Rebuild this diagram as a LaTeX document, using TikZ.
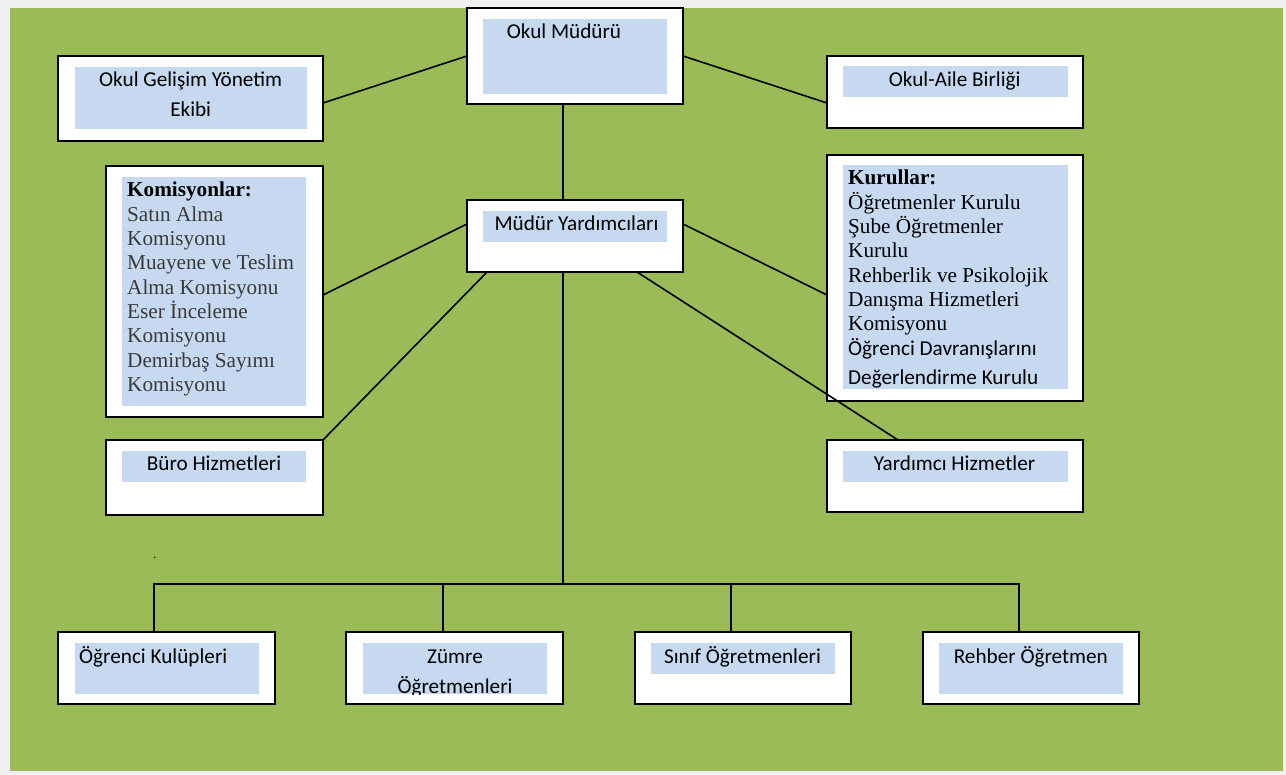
\documentclass[tikz,border=0pt]{standalone}
\usepackage{fontspec}
\setmainfont{Liberation Serif}
\newfontfamily\calfont{Carlito}
\usetikzlibrary{calc}
\definecolor{bggreen}{HTML}{9BBB59}
\definecolor{inblue}{HTML}{C6D9F1}
\definecolor{pagegray}{HTML}{F0F0F0}
\definecolor{komgray}{HTML}{3A3A3A}
\begin{document}
\begin{tikzpicture}[x=1pt,y=-1pt,
  box/.style={draw=black, line width=2pt, fill=white, inner sep=0pt, outer sep=0pt},
  inbox/.style={fill=inblue, inner sep=0pt, outer sep=0pt, anchor=north west},
  ctext/.style={font=\calfont\fontsize{21.2}{29}\selectfont, inner sep=0pt, anchor=base, text=black},
  stext/.style={font=\fontsize{21.2}{24.3}\selectfont, inner sep=0pt, anchor=base west, align=left},
  link/.style={line width=1.6pt, draw=black}]

\fill[pagegray] (0,0) rectangle (1286,775);
\fill[bggreen] (10,8) rectangle (1283,771);
\useasboundingbox (0,0) rectangle (1286,775);

% ---- outer boxes
\node[box, minimum width=216pt, minimum height=96pt] (om) at (575,56) {};
\node[box, minimum width=265pt, minimum height=85pt] (ogy) at (190.5,98.5) {};
\node[box, minimum width=256pt, minimum height=72pt] (oab) at (955,92) {};
\node[box, minimum width=217pt, minimum height=251pt] (kom) at (214.5,291.5) {};
\node[box, minimum width=216pt, minimum height=72pt] (my) at (575,236) {};
\node[box, minimum width=256pt, minimum height=246pt] (kur) at (955,278) {};
\node[box, minimum width=217pt, minimum height=75pt] (buro) at (214.5,477.5) {};
\node[box, minimum width=256pt, minimum height=72pt] (yh) at (955,476) {};
\node[box, minimum width=217pt, minimum height=72pt] (ok) at (166.5,668) {};
\node[box, minimum width=217pt, minimum height=72pt] (zo) at (454.5,668) {};
\node[box, minimum width=216pt, minimum height=72pt] (so) at (743,668) {};
\node[box, minimum width=216pt, minimum height=72pt] (ro) at (1031,668) {};

% ---- inner blue panels
\node[inbox, minimum width=184pt, minimum height=75pt] (omi) at (483,19) {};
\node[inbox, minimum width=232pt, minimum height=62pt] (ogyi) at (75,67) {};
\node[inbox, minimum width=225pt, minimum height=31pt] (oabi) at (843,66) {};
\node[inbox, minimum width=184pt, minimum height=229pt] (komi) at (122,177) {};
\node[inbox, minimum width=184pt, minimum height=31pt] (myi) at (483,211) {};
\node[inbox, minimum width=225pt, minimum height=224pt] (kuri) at (843,165) {};
\node[inbox, minimum width=184pt, minimum height=31pt] (buroi) at (122,451) {};
\node[inbox, minimum width=225pt, minimum height=31pt] (yhi) at (843,451) {};
\node[inbox, minimum width=184pt, minimum height=51pt] (oki) at (75,643) {};
\node[inbox, minimum width=184pt, minimum height=51pt] (zoi) at (363,643) {};
\node[inbox, minimum width=184pt, minimum height=31pt] (soi) at (651,643) {};
\node[inbox, minimum width=184pt, minimum height=51pt] (roi) at (939,643) {};

% ---- texts
\node[ctext] (omt) at (564,39) {Okul Müdürü};
\node[ctext] (ogyt1) at (190.7,87) {Okul Gelişim Yönetim};
\node[ctext] (ogyt2) at (190.7,117) {Ekibi};
\node[ctext] (oabt) at (954.7,87) {Okul-Aile Birliği};
\node[ctext] (myt) at (576.5,231) {Müdür Yardımcıları};
\node[ctext] (burot) at (214,471) {Büro Hizmetleri};
\node[ctext] (yht) at (954.5,471) {Yardımcı Hizmetler};
\node[ctext, anchor=base west] (okt) at (79,663) {Öğrenci Kulüpleri};
\node[ctext] (zot1) at (455,663) {Zümre};
\begin{scope}
  \clip (363,643) rectangle (547,694);
  \node[ctext] (zot2) at (455,693) {Öğretmenleri};
\end{scope}
\node[ctext] (sot) at (742.5,663) {Sınıf Öğretmenleri};
\node[ctext] (rot) at (1030.8,663) {Rehber Öğretmen};

\node[stext, text=komgray] (komt) at (127,391.4)
  {\textcolor{black}{\textbf{Komisyonlar:}}\\Satın Alma\\Komisyonu\\Muayene ve Teslim\\Alma Komisyonu\\Eser İnceleme\\Komisyonu\\Demirbaş Sayımı\\Komisyonu};
\node[stext, text=black] (kurt) at (848,330.8)
  {\textbf{Kurullar:}\\Öğretmenler Kurulu\\Şube Öğretmenler\\Kurulu\\Rehberlik ve Psikolojik\\Danışma Hizmetleri\\Komisyonu};
\node[ctext, anchor=base west] (kurc1) at (848,356) {Öğrenci Davranışlarını};
\node[ctext, anchor=base west] (kurc2) at (848,385) {Değerlendirme Kurulu};

\node[font=\calfont\fontsize{12}{14}\selectfont, inner sep=0pt] (dot) at (155,558) {.};

% ---- connectors
\draw[link] ([yshift=-4.5pt]ogy.east) -- (om.west);
\draw[link] (om.east) -- ([yshift=-11pt]oab.west);
\draw[link] ([xshift=-12pt]om.south) -- ([xshift=-12pt]my.north);
\draw[link] ([yshift=-3.5pt]kom.east) -- ([yshift=12pt]my.west);
\draw[link] ([yshift=12pt]my.east) -- ([yshift=-17pt]kur.west);
\draw[link] (buro.north east) -- ([xshift=-88pt]my.south);
\draw[link] ([xshift=62pt]my.south) -- ([xshift=-57pt]yh.north);
\coordinate (bus) at (563,584);
\draw[link] ([xshift=-12pt]my.south) -- (bus);
\draw[link] ([xshift=-12.5pt]ok.north) |- (bus) -| ([xshift=-12pt]ro.north);
\draw[link] ([xshift=-11.5pt]zo.north) -- ++(0,-48);
\draw[link] ([xshift=-12pt]so.north) -- ++(0,-48);
\end{tikzpicture}
\end{document}
